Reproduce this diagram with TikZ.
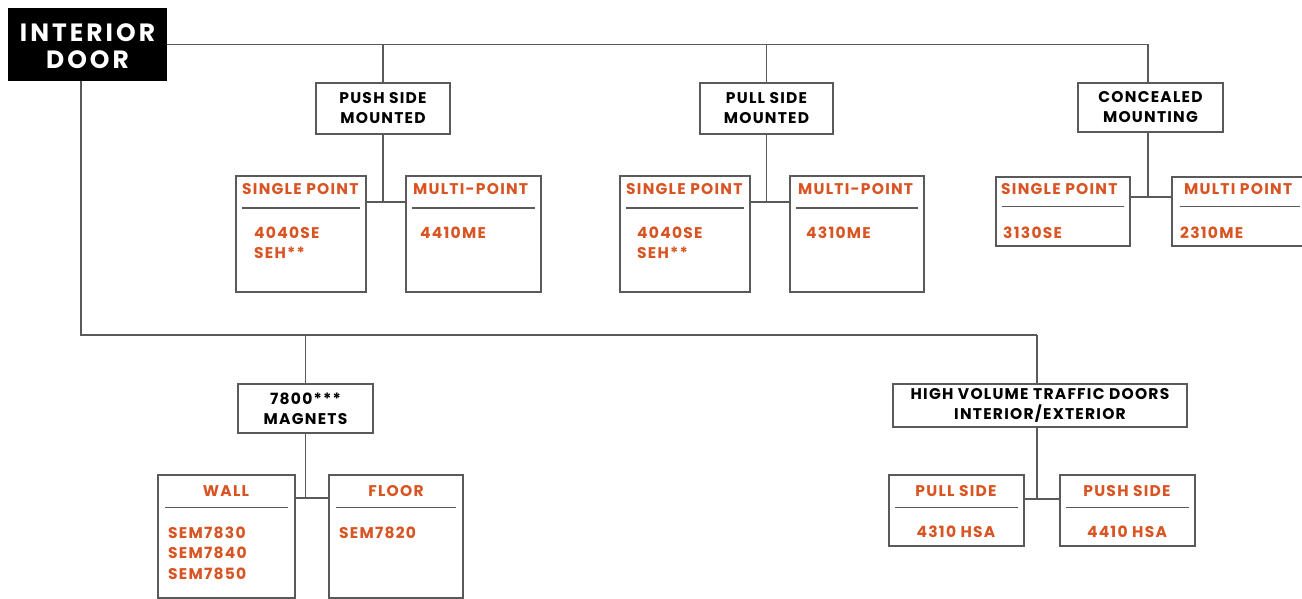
\documentclass[tikz,border=0pt]{standalone}
\usepackage{fontspec}
\setmainfont{Poppins}[LetterSpace=8]
\usetikzlibrary{fit,calc}
\definecolor{org}{RGB}{216,84,34}
\definecolor{ln}{RGB}{90,90,90}
\begin{document}
\begin{tikzpicture}[x=1pt,y=-1pt,
  box/.style={draw=ln, line width=1.1pt, fill=white, inner sep=0pt},
  ttl/.style={font=\bfseries\fontsize{15.5}{20}\selectfont, align=center, text=black, inner sep=0pt},
  otl/.style={font=\bfseries\fontsize{15.5}{20}\selectfont, text=org, inner sep=0pt},
  conn/.style={draw=ln, line width=1.1pt},
  sep/.style={draw=ln, line width=1pt}]
\useasboundingbox (0,0) rectangle (1302,599);
% root
\node[fill=black, inner sep=0pt, fit={(8,8) (167,81)}] (door) {};
\node[text=white, font=\bfseries\fontsize{25}{27}\addfontfeatures{LetterSpace=12}\selectfont, align=center, inner sep=0pt] (doort) at (87.5,46.5) {INTERIOR\\DOOR};
% level 1
\node[box, fit={(316,83) (450,134)}] (push) {};
\node[ttl] (pusht) at (push.center) {PUSH SIDE\\MOUNTED};
\node[box, fit={(700,83) (833,134)}] (pull) {};
\node[ttl] (pullt) at (pull.center) {PULL SIDE\\MOUNTED};
\node[box, fit={(1078,83) (1223,132)}] (conc) {};
\node[ttl] (conct) at (conc.center) {CONCEALED\\MOUNTING};
\node[box, fit={(238,384) (373,433)}] (mag) {};
\node[ttl] (magt) at (mag.center) {7800***\\MAGNETS};
\node[box, fit={(893,384) (1187,427)}] (hv) {};
\node[ttl] (hvt) at (hv.center) {HIGH VOLUME TRAFFIC DOORS\\INTERIOR/EXTERIOR};
% connectors from root
\coordinate (cx) at (1148,44);
\coordinate (hx) at (1037,335);
\draw[conn] (door.east) -- (door.east -| cx);
\draw[conn] (push.north) -- (push.north |- door.east);
\draw[conn] (pull.north) -- (pull.north |- door.east);
\draw[conn] (conc.north -| cx) -- (cx);
\coordinate (dl) at (81,335);
\draw[conn] (door.south -| dl) -- (dl) -- (hx);
\draw[conn] (mag.north) -- (mag.north |- dl);
\draw[conn] (hv.north -| hx) -- (hx);
% push side leaves
\node[box, fit={(236,176) (366,292)}] (ps1) {};
\node[box, fit={(406,176) (541,292)}] (pm1) {};
\node[otl, anchor=west] (ps1t) at (242,189) {SINGLE POINT};
\draw[sep] (242,208) -- (360,208);
\node[otl, anchor=west] (ps1a) at (254,233) {4040SE};
\node[otl, anchor=west] (ps1b) at (254,253) {SEH**};
\node[otl, anchor=west] (pm1t) at (413,189) {MULTI-POINT};
\draw[sep] (412,208) -- (535,208);
\node[otl, anchor=west] (pm1a) at (420,233) {4410ME};
\draw[conn] (push.south) -- (push.south |- 0,202);
\draw[conn] (ps1.east |- 0,202) -- (pm1.west |- 0,202);
% pull side leaves
\node[box, fit={(620,176) (750,292)}] (ls1) {};
\node[box, fit={(790,176) (924,292)}] (lm1) {};
\node[otl, anchor=west] (ls1t) at (626,189) {SINGLE POINT};
\draw[sep] (626,208) -- (744,208);
\node[otl, anchor=west] (ls1a) at (637,233) {4040SE};
\node[otl, anchor=west] (ls1b) at (637,253) {SEH**};
\node[otl, anchor=west] (lm1t) at (798,189) {MULTI-POINT};
\draw[sep] (796,208) -- (918,208);
\node[otl, anchor=west] (lm1a) at (806,233) {4310ME};
\draw[conn] (pull.south) -- (pull.south |- 0,202);
\draw[conn] (ls1.east |- 0,202) -- (lm1.west |- 0,202);
% concealed leaves
\node[box, fit={(996,177) (1130,246)}] (cs1) {};
\node[box, fit={(1172,177) (1312,246)}] (cm1) {};
\node[otl, anchor=west] (cs1t) at (1001,189) {SINGLE POINT};
\draw[sep] (1002,207) -- (1124,207);
\node[otl, anchor=west] (cs1a) at (1003,233) {3130SE};
\node[otl, anchor=west] (cm1t) at (1184,189) {MULTI POINT};
\draw[sep] (1180,207) -- (1300,207);
\node[otl, anchor=west] (cm1a) at (1180,233) {2310ME};
\draw[conn] (conc.south -| cx) -- (cx |- 0,197);
\draw[conn] (cs1.east |- 0,197) -- (cm1.west |- 0,197);
% magnets leaves
\node[box, fit={(158,475) (295,598)}] (wall) {};
\node[box, fit={(329,475) (463,598)}] (floor) {};
\node[otl] (wallt) at (226,491) {WALL};
\draw[sep] (165,507) -- (288,507);
\node[otl, anchor=west] (walla) at (168,533) {SEM7830};
\node[otl, anchor=west] (wallb) at (168,553) {SEM7840};
\node[otl, anchor=west] (wallc) at (168,574) {SEM7850};
\node[otl] (floort) at (396,491) {FLOOR};
\draw[sep] (336,507) -- (456,507);
\node[otl, anchor=west] (floora) at (339,533) {SEM7820};
\draw[conn] (mag.south) -- (mag.south |- 0,498);
\draw[conn] (wall.east |- 0,498) -- (floor.west |- 0,498);
% high volume leaves
\node[box, fit={(889,475) (1024,546)}] (hpl) {};
\node[box, fit={(1060,475) (1195,546)}] (hps) {};
\node[otl] (hplt) at (956,491) {PULL SIDE};
\draw[sep] (895,507) -- (1018,507);
\node[otl] (hpla) at (956,532) {4310 HSA};
\node[otl] (hpst) at (1127,491) {PUSH SIDE};
\draw[sep] (1066,507) -- (1189,507);
\node[otl] (hpsa) at (1127,532) {4410 HSA};
\draw[conn] (hv.south -| hx) -- (hx |- 0,499);
\draw[conn] (hpl.east |- 0,499) -- (hps.west |- 0,499);
\end{tikzpicture}
\end{document}
